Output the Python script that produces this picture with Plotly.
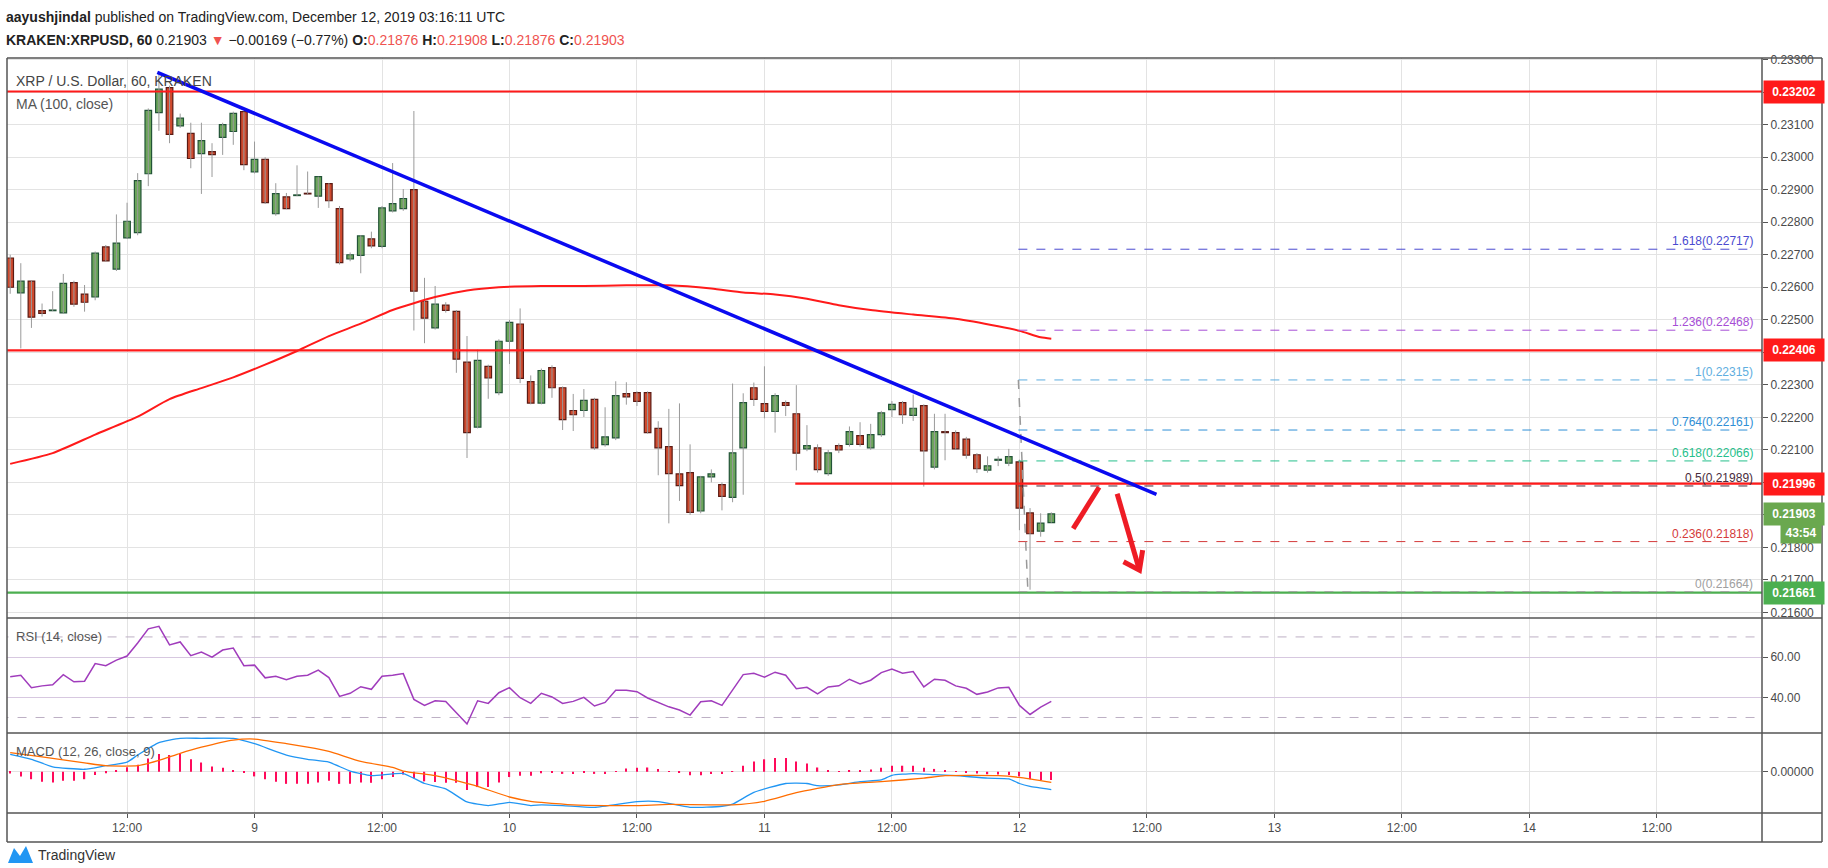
import plotly.graph_objects as go
from plotly.subplots import make_subplots
from datetime import datetime, timedelta

# ---------------- data ----------------
start_time = "2019-12-08 01:00"
opens = [.2269,.22583,.22619,.22528,.22528,.22521,.22614,.22579,.2257,.22724,.22656,.22752,.22768,.22949,.23137,.23214,.23096,.23073,.23011,.23017,
 .23061,.23079,.2314,.22955,.22993,.22826,.22878,.22882,.22889,.2288,.22919,.22842,.22687,.22698,.22749,.22726,.22835,.22842,.229,.22557,
 .22475,.22545,.22526,.2237,.2217,.22357,.22276,.22434,.22487,.2231,.22244,.22353,.22291,.22221,.22221,.22255,.22116,.22137,.22273,.22276,
 .22276,.22166,.2211,.22026,.2203,.21912,.22017,.21993,.21954,.22106,.22291,.22242,.22218,.22245,.22211,.22103,.22106,.22027,.22113,.22117,
 .22144,.22106,.22147,.22224,.22245,.22206,.22236,.22047,.22156,.22153,.22133,.22085,.22038,.22068,.22059,.22063,.21906,.2185,.21876]
highs = [.2270,.22674,.2262,.2255,.22588,.22641,.2262,.22607,.2271,.2273,.22824,.2286,.22951,.2315,.23261,.2322,.23134,.23106,.23106,.23043,
 .23106,.2314,.2314,.23048,.2300,.2292,.2289,.22975,.22956,.2294,.2292,.2285,.22707,.2276,.22771,.2285,.22982,.22902,.23142,.22629,
 .22604,.22554,.2253,.2245,.22408,.22362,.2244,.225,.22535,.22329,.2235,.2236,.22295,.22272,.22287,.2226,.22231,.22311,.22308,.2228,
 .2228,.22188,.22226,.22243,.22117,.2202,.2204,.2200,.22304,.22274,.22307,.22357,.22274,.22252,.22299,.22176,.22117,.221,.2212,.22172,
 .22185,.2218,.2222,.2225,.2225,.2227,.2224,.22211,.22211,.2216,.2214,.2209,.2208,.2208,.22103,.2207,.21921,.21905,.21908]
lows = [.2258,.22412,.22475,.2251,.22527,.2252,.2254,.22525,.2256,.2268,.2265,.2275,.2276,.22911,.23081,.23043,.2309,.22966,.22887,.22939,
 .23007,.23038,.2296,.2295,.22856,.2282,.2284,.2288,.22886,.22844,.22844,.2267,.2268,.22643,.2272,.2272,.2283,.22835,.22467,.22428,
 .2247,.22522,.22337,.22075,.22166,.22257,.22268,.22364,.22305,.2224,.2224,.2226,.22161,.22158,.22201,.221,.2211,.2213,.22239,.22235,
 .2215,.22022,.21874,.21943,.219,.21905,.2200,.21914,.21939,.21962,.22235,.22197,.22153,.22204,.22037,.22096,.2203,.2202,.2209,.2211,
 .2211,.221,.2214,.22201,.2218,.22189,.21987,.2204,.22068,.221,.22073,.22029,.2203,.2205,.2205,.21853,.2167,.21833,.21876]
closes = [.2260,.22619,.22508,.2252,.2253,.22612,.22548,.22554,.22705,.22681,.22736,.22803,.22928,.23144,.23209,.2307,.2312,.22996,.23051,.23008,
 .231,.23135,.22977,.22993,.2286,.22888,.22842,.22884,.22887,.2294,.22866,.22676,.227,.22758,.22727,.22844,.22857,.22873,.22588,.22505,
 .22548,.22529,.22379,.22153,.22375,.22321,.22434,.22492,.2232,.22244,.22344,.22291,.22193,.22208,.22252,.22106,.2214,.22267,.22263,.22249,
 .22153,.22106,.22027,.2199,.21908,.22017,.22026,.21957,.22091,.22245,.22255,.22218,.22267,.22237,.2209,.22113,.22039,.22091,.221,.22156,
 .22117,.22147,.22214,.2224,.22208,.22228,.22097,.22156,.22153,.22103,.22084,.22042,.22051,.22071,.22079,.21921,.21842,.21875,.21903]

ma_idx = [0,4,8,12,15,18,21,24,27,30,33,36,40,43,46,50,54,58,62,66,69,72,75,78,81,85,89,93,95,97,98]
ma_vals = [.22057,.2209,.22147,.22202,.22256,.2229,.22323,.22362,.22404,.2245,.22488,.2253,.2257,.2259,.226,.22604,.22604,.22606,.22606,.22596,
 .22584,.22578,.22565,.22545,.2253,.22516,.22503,.2248,.22466,.22446,.22442]

rsi = [50.2,51,44.8,45.7,46.2,51.3,47.7,48,56.8,55.7,58.5,60.5,67,74,75.3,66,67.5,60.7,62.5,60,63.5,64.5,55.7,56,49.7,50.5,48.8,50.5,51,53.5,
 49.8,40.5,42,45.3,44,50.5,51,51.8,39,36,38.3,38,32.3,26.8,38.3,37,42.3,44.8,39.8,37,42,40.2,37,38,40,35.7,37.5,43.5,43.5,42.8,
 39.7,37.3,35.3,33.7,31.2,37.8,38.3,36,43.7,51.3,52,50,52.5,51,44.3,45,41.7,45.2,45.7,49,46.7,48.5,52.3,54,52,52.8,45.2,49,48.5,45.7,
 44.5,41.5,42.7,44.7,45,36,31.5,35.2,38]

# MACD values in units of 1e-6
macd_idx = [0,2,4,7,9,11,12,14,16,18,21,23,26,28,30,32,34,37,39,41,43,45,47,49,50,52,55,59,61,64,67,68,70,73,75,76,78,80,82,83,85,87,89,92,94,95,96,98]
macd_vals = [147,105,42,21,51,81,141,246,282,282,282,237,141,105,81,6,-33,-15,-99,-144,-255,-285,-258,-285,-279,-285,-300,-252,-252,-300,-291,-273,
 -174,-99,-99,-117,-111,-84,-69,-30,-15,-24,-33,-54,-60,-99,-123,-150]
sig_idx = [0,3,7,9,12,14,16,18,21,23,26,28,30,33,36,37,40,42,44,47,49,50,53,56,59,62,68,71,74,78,82,86,88,93,95,98]
sig_vals = [162,126,75,51,51,96,156,207,267,276,237,207,171,87,36,6,-33,-75,-123,-213,-249,-258,-279,-285,-285,-276,-279,-249,-177,-108,-84,-54,-33,-33,-48,-90]
hist_vals = [-15,-39,-63,-84,-90,-75,-75,-63,-27,-12,15,39,60,111,150,141,150,105,78,45,33,15,-9,-39,-63,-84,-102,-102,-102,-90,
 -75,-102,-102,-90,-93,-63,-45,-24,-54,-81,-87,-93,-93,-153,-129,-129,-90,-45,-33,-33,-12,-6,-18,-18,-9,-18,-18,6,27,33,
 36,24,6,-9,-30,-30,-18,-18,6,51,87,105,117,117,87,69,36,15,6,15,15,18,33,51,51,51,33,24,15,6,-6,-15,-21,-24,-27,-39,-63,-69,-69]

trend_k = [13.85, 107.9]
trend_p = [0.23261, 0.21963]
hlines_full = [(0.23202, "#ff1a1a"), (0.22406, "#ff1a1a"), (0.21661, "#4caf50")]
hline_partial = (73.9, 0.21996, "#ff1a1a")
fib_levels = ["1.618", "1.236", "1", "0.764", "0.618", "0.5", "0.236", "0"]
fib_prices = [0.22717, 0.22468, 0.22315, 0.22161, 0.22066, 0.21989, 0.21818, 0.21664]
fib_colors = ["#4a4ad0", "#a64dd6", "#5eaee0", "#2f8fd6", "#26bf8c", "#4a2c3c", "#d43b3b", "#a0a0a0"]
fib_start_k = 94.9
arrow_up_k = [100.06, 102.5]; arrow_up_p = [0.21858, 0.21985]
arrow_dn_k = [104.2, 106.3]; arrow_dn_p = [0.21965, 0.21730]
arrow_head_k = [104.8, 106.3, 106.6]; arrow_head_p = [0.21756, 0.21730, 0.21792]

base = datetime.strptime(start_time, "%Y-%m-%d %H:%M")
T = lambda k: base + timedelta(hours=k)
times = [T(i) for i in range(len(closes))]

W, H = 1828, 868
L, R, TOP, BOT = 7, 1762, 58, 813
px = lambda x: (x - L) / (R - L)
py = lambda y: (BOT - y) / (BOT - TOP)

fig = make_subplots(rows=3, cols=1, shared_xaxes=True, vertical_spacing=0,
                    row_heights=[560, 115, 80])

GRID = "#e3e3e3"
wx, wy = [], []
for t, lo, hi in zip(times, lows, highs):
    wx += [t, t, None]; wy += [lo, hi, None]
fig.add_trace(go.Scatter(x=wx, y=wy, mode="lines", line=dict(color="#9a9a9a", width=1), hoverinfo="skip"), 1, 1)
up = [c >= o for o, c in zip(opens, closes)]
fig.add_trace(go.Bar(x=times, base=[min(o, c) for o, c in zip(opens, closes)],
                     y=[max(abs(c - o), 0.000015) for o, c in zip(opens, closes)],
                     width=0.62 * 3600000,
                     marker=dict(color=["#6ba55a" if u else "#cf4a2e" for u in up],
                                 line=dict(color=["#225437" if u else "#5b1a13" for u in up], width=1.2))), 1, 1)
fig.add_trace(go.Scatter(x=[T(k) for k in ma_idx], y=ma_vals, mode="lines", line=dict(color="#ff1a1a", width=2, shape="spline", smoothing=0.6)), 1, 1)

xend = T(165.5)
for p, c in hlines_full:
    fig.add_trace(go.Scatter(x=[T(-1), xend], y=[p, p], mode="lines", line=dict(color=c, width=2.2)), 1, 1)
fig.add_trace(go.Scatter(x=[T(hline_partial[0]), xend], y=[hline_partial[1]] * 2, mode="lines",
                         line=dict(color=hline_partial[2], width=2.2)), 1, 1)
fib_end = T(164.2)
for lvl, p, c in zip(fib_levels, fib_prices, fib_colors):
    fig.add_trace(go.Scatter(x=[T(fib_start_k), fib_end], y=[p, p], mode="lines", line=dict(color=c, width=1, dash="dash")), 1, 1)
    fig.add_annotation(x=fib_end, y=p, xref="x", yref="y", text=f"{lvl}({p:.5f})", showarrow=False,
                       xanchor="right", yanchor="bottom", yshift=-1, font=dict(color=c, size=12, family="Liberation Sans"))
fig.add_trace(go.Scatter(x=[T(fib_start_k), T(95.8)], y=[fib_prices[2], fib_prices[-1]], mode="lines",
                         line=dict(color="#999", width=1.5, dash="dash")), 1, 1)
fig.add_trace(go.Scatter(x=[T(k) for k in trend_k], y=trend_p, mode="lines", line=dict(color="#0a0af0", width=3.5)), 1, 1)
for ks, ps in [(arrow_up_k, arrow_up_p), (arrow_dn_k, arrow_dn_p), (arrow_head_k, arrow_head_p)]:
    fig.add_trace(go.Scatter(x=[T(k) for k in ks], y=ps, mode="lines", line=dict(color="#ee1c25", width=5)), 1, 1)

# RSI
fig.add_hrect(y0=30, y1=70, fillcolor="#f3e5fc", line_width=0, layer="below", row=2, col=1)
for v in (30, 70):
    fig.add_trace(go.Scatter(x=[T(-1), xend], y=[v, v], mode="lines", line=dict(color="#bdb0c4", width=1, dash="dash")), 2, 1)
fig.add_trace(go.Scatter(x=times, y=rsi, mode="lines", line=dict(color="#a03cbc", width=1.5)), 2, 1)

# MACD
fig.add_trace(go.Bar(x=times, y=hist_vals, width=0.12 * 3600000, marker=dict(color="#ff0a5a", line_width=0)), 3, 1)
fig.add_trace(go.Scatter(x=[T(k) for k in macd_idx], y=macd_vals, mode="lines", line=dict(color="#2196f3", width=1.3, shape="spline", smoothing=0.5)), 3, 1)
fig.add_trace(go.Scatter(x=[T(k) for k in sig_idx], y=sig_vals, mode="lines", line=dict(color="#ff6d00", width=1.3, shape="spline", smoothing=0.5)), 3, 1)

tickvals = [datetime(2019, 12, d, h) for d in range(8, 15) for h in (0, 12) if not (d == 8 and h == 0)]
ticktext = ["12:00" if t.hour == 12 else str(t.day) for t in tickvals]
axfont = dict(family="Liberation Sans", size=12, color="#4a4a4a")
for r in (1, 2, 3):
    fig.update_xaxes(row=r, col=1, range=[T(-0.3), T(164.9)], showgrid=True, gridcolor=GRID, tickvals=tickvals,
                     ticktext=ticktext, zeroline=False, showline=False, ticks="", tickfont=axfont)
fig.update_xaxes(row=3, col=1, ticks="outside", ticklen=4, tickcolor="#555")
fig.update_yaxes(row=1, col=1, range=[0.21583, 0.23305], side="right", dtick=0.001, tick0=0.216, tickformat=".5f",
                 gridcolor=GRID, ticks="outside", ticklen=5, tickcolor="#555", tickfont=axfont, zeroline=False)
fig.update_yaxes(row=2, col=1, range=[22.3, 79.4], side="right", tickvals=[40, 60], ticktext=["40.00", "60.00"],
                 gridcolor="#d7c8e0", ticks="outside", ticklen=5, tickcolor="#555", tickfont=axfont, zeroline=False)
fig.update_yaxes(row=3, col=1, range=[-348, 327], side="right", tickvals=[0], ticktext=["0.00000"],
                 gridcolor=GRID, ticks="outside", ticklen=5, tickcolor="#555", tickfont=axfont, zeroline=False)

bc = "#555"
def hline_px(y, x0=L, x1=1822):
    fig.add_shape(type="line", xref="paper", yref="paper", x0=px(x0), x1=px(x1), y0=py(y), y1=py(y), line=dict(color=bc, width=1.5))
for y in (TOP, 618, 733, BOT, 842):
    hline_px(y)
for x in (L, R, 1822):
    fig.add_shape(type="line", xref="paper", yref="paper", x0=px(x), x1=px(x), y0=py(TOP), y1=py(842), line=dict(color=bc, width=1.5))

def tag(p, text, color):
    fig.add_annotation(xref="paper", yref="y", x=px(R + 1), y=p, text=f"<b>{text}</b>", showarrow=False, xanchor="left",
                       bgcolor=color, font=dict(color="white", size=12, family="Liberation Sans"), borderpad=4, width=52)
tag(0.23202, "0.23202", "#ff1a1a")
tag(0.22406, "0.22406", "#ff1a1a")
tag(0.21996, "0.21996", "#ff1a1a")
tag(0.21903, "0.21903", "#6aa84f")
fig.add_annotation(xref="paper", yref="y", x=px(1822), y=0.21903, yshift=-19, text="<b>43:54</b>", showarrow=False, xanchor="right",
                   bgcolor="#6aa84f", font=dict(color="white", size=12, family="Liberation Sans"), borderpad=3, width=34)
tag(0.21661, "0.21661", "#4caf50")

def text(x, y, s, size=13, color="#333", anchor="left"):
    fig.add_annotation(xref="paper", yref="paper", x=px(x), y=py(y), text=s, showarrow=False, xanchor=anchor, yanchor="middle",
                       font=dict(size=size, color=color, family="Liberation Sans"))
text(4, 17, "<b>aayushjindal</b> published on TradingView.com, December 12, 2019 03:16:11 UTC", 14, "#222")
text(4, 40, "<b>KRAKEN:XRPUSD, 60</b> 0.21903 <span style='color:#ef5350'>▼</span> −0.00169 (−0.77%) <b>O:</b><span style='color:#ef5350'>0.21876</span> "
            "<b>H:</b><span style='color:#ef5350'>0.21908</span> <b>L:</b><span style='color:#ef5350'>0.21876</span> <b>C:</b><span style='color:#ef5350'>0.21903</span>", 14, "#222")
text(14, 81, "XRP / U.S. Dollar, 60, KRAKEN", 14, "#444")
text(14, 104, "MA (100, close)", 14, "#555")
text(14, 636, "RSI (14, close)", 13, "#555")
text(14, 751, "MACD (12, 26, close, 9)", 13, "#555")
text(36, 855, "TradingView", 14, "#333")
fig.add_shape(type="path", xref="paper", yref="paper",
              path=f"M {px(8)} {py(863)} L {px(14)} {py(848)} L {px(20)} {py(856)} L {px(26)} {py(846)} L {px(33)} {py(863)} Z",
              fillcolor="#2196f3", line_width=0)

fig.update_layout(width=W, height=H, margin=dict(l=L, r=W - R, t=TOP, b=H - BOT), showlegend=False,
                  plot_bgcolor="white", paper_bgcolor="white", barmode="overlay", hovermode=False)
fig.write_html("out.html", config={"displayModeBar": False})
with open("out.html", encoding="utf-8") as f:
    html = f.read()
html = html.replace("<head>", "<head><style>html,body{margin:0;padding:0;overflow:hidden}</style>", 1)
with open("out.html", "w", encoding="utf-8") as f:
    f.write(html)
